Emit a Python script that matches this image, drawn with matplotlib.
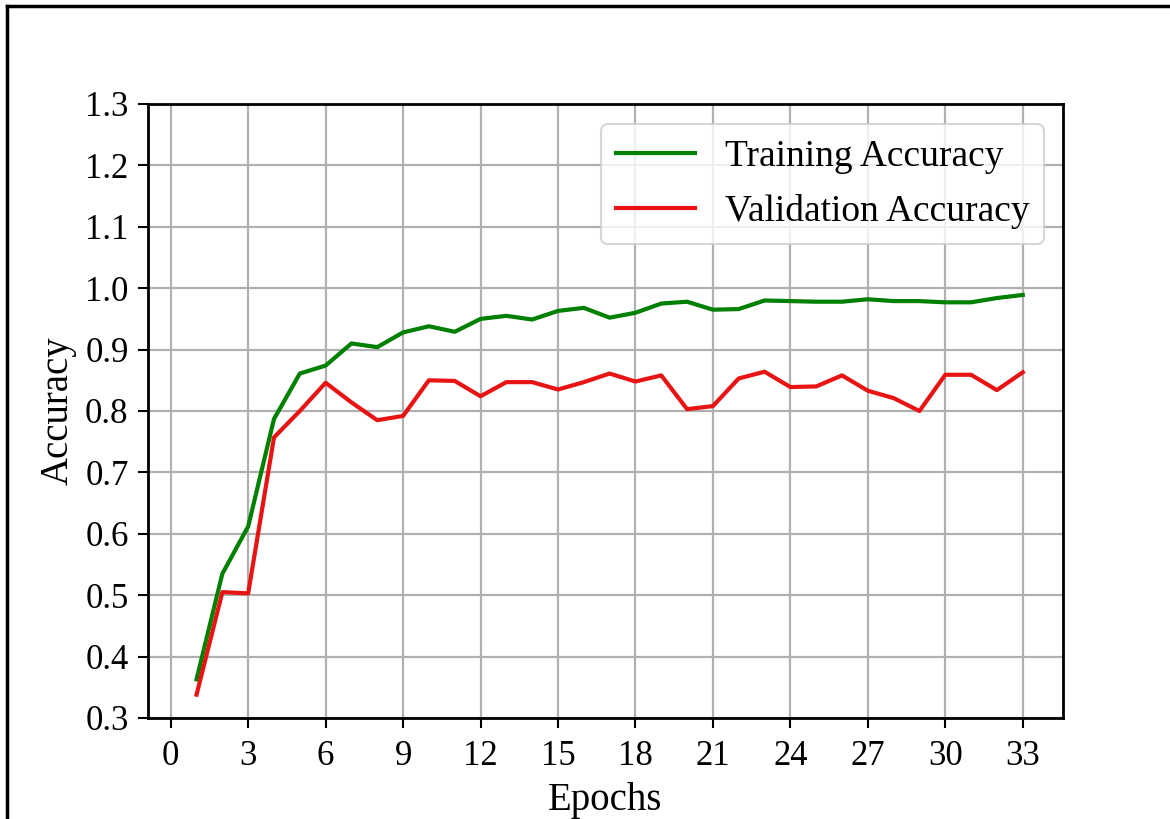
import matplotlib
matplotlib.use("Agg")
import matplotlib.pyplot as plt
from matplotlib.lines import Line2D

epochs = list(range(1, 34))
train_acc = [0.363, 0.535, 0.612, 0.787, 0.861, 0.874, 0.910, 0.904, 0.928, 0.938,
             0.929, 0.950, 0.955, 0.949, 0.963, 0.968, 0.952, 0.960, 0.975, 0.978,
             0.965, 0.966, 0.980, 0.979, 0.978, 0.978, 0.982, 0.979, 0.979, 0.977,
             0.977, 0.984, 0.989]
val_acc = [0.338, 0.505, 0.503, 0.757, 0.800, 0.846, 0.814, 0.785, 0.792, 0.850,
           0.849, 0.824, 0.847, 0.847, 0.835, 0.847, 0.861, 0.848, 0.858, 0.803,
           0.808, 0.853, 0.864, 0.839, 0.840, 0.858, 0.833, 0.821, 0.800, 0.859,
           0.859, 0.834, 0.863]
xticks = list(range(0, 34, 3))
yticks = [0.3, 0.4, 0.5, 0.6, 0.7, 0.8, 0.9, 1.0, 1.1, 1.2, 1.3]

plt.rcParams['font.family'] = ['Liberation Serif', 'DejaVu Serif']

fig = plt.figure(figsize=(11.7, 8.19), dpi=100)
ax = fig.add_axes([148/1170, 1-718/819, (1063-148)/1170, (718-104)/819])

ax.plot(epochs, train_acc, color='green', lw=3, label='Training Accuracy')
ax.plot(epochs, val_acc, color='#e81414', lw=3, label='Validation Accuracy')

ax.set_xlim(-0.88, 34.56)
ax.set_ylim(0.3, 1.3)
ax.set_xticks(xticks)
ax.set_yticks(yticks)
ax.set_yticklabels([f"{v:.1f}" for v in yticks])
ax.tick_params(labelsize=25, width=1.5, length=7)
ax.tick_params(axis='x', pad=9)
ax.tick_params(axis='y', pad=7)
ax.grid(True, color='#b0b0b0', lw=1.6)
for s in ax.spines.values():
    s.set_linewidth(2)
ax.set_xlabel('Epochs', fontsize=28, labelpad=6)
ax.set_ylabel('Accuracy', fontsize=28, labelpad=6)

leg = ax.legend(loc='upper right', fontsize=27, handlelength=2.1, handletextpad=0.8,
                borderpad=0.4, labelspacing=0.55, borderaxespad=0,
                bbox_to_anchor=(0.9795, 0.967))
leg.get_frame().set_linewidth(1.5)

fig.add_artist(Line2D([7/1170, 7/1170], [0, 1-6/819], color='black', lw=2.5,
                      transform=fig.transFigure))
fig.add_artist(Line2D([7/1170, 1], [1-6/819, 1-6/819], color='black', lw=2.5,
                      transform=fig.transFigure))

fig.savefig('out.png', dpi=100)
